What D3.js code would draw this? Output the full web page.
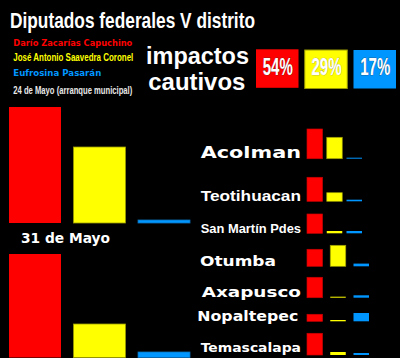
<!DOCTYPE html>
<html><head><meta charset="utf-8">
<script src="https://cdn.jsdelivr.net/npm/d3@7"></script>
<style>html,body{margin:0;padding:0;background:#000;}svg{display:block;}</style>
</head><body>
<svg id="c" width="400" height="358"></svg>
<script>
// ---------- data ----------
const title = "Diputados federales V distrito";
const candidates = ["Darío Zacarías Capuchino", "José Antonio Saavedra Coronel", "Eufrosina Pasarán"];
const shares = [54, 29, 17];
const dates = ["24 de Mayo (arranque municipal)", "31 de Mayo"];
const may24 = [116, 76, 3];
const may31 = [103.5, 33.5, 5.5];
const municipios = ["Acolman", "Teotihuacan", "San Martín Pdes", "Otumba", "Axapusco", "Nopaltepec", "Temascalapa"];
const muniRed = [29.7, 24, 19.3, 17, 20.4, 7, 21.7];
const muniYellow = [21.4, 8.6, 2.3, 21, 1, 1.3, 3];
const muniBlue = [1, 1.6, 2.3, 2.7, 2.4, 8.3, 2];

// ---------- styles / layout ----------
const NARROW = "Liberation Sans, Arial, sans-serif";
const fills = ["#ff0000", "#ffff00", "#0096ff"];
const strokes = ["#c80000", "#9a9a00", "#0a6fb8"];
const svg = d3.select("#c");
svg.append("rect").attr("width", 400).attr("height", 358).attr("fill", "#000");

// title
svg.append("text").attr("x", 10).attr("y", 27.5)
  .attr("font-family", NARROW).attr("font-weight", "bold")
  .attr("font-size", 21.5).attr("fill", "#fff")
  .attr("textLength", 245).attr("lengthAdjust", "spacingAndGlyphs").text(title);

// candidate names
const nameFonts = ["DejaVu Sans", NARROW, "DejaVu Sans"];
const nameSizes = [9.5, 11, 9.5];
const nameW = [119, 120, 88];
const nameY = [45.7, 61.3, 76];
candidates.forEach((c, i) => {
  svg.append("text").attr("x", 13.3).attr("y", nameY[i])
    .attr("font-family", nameFonts[i]).attr("font-weight", "bold")
    .attr("font-size", nameSizes[i]).attr("fill", fills[i])
    .attr("textLength", nameW[i]).attr("lengthAdjust", "spacingAndGlyphs").text(c);
});

// date 1
svg.append("text").attr("x", 13.3).attr("y", 94)
  .attr("font-family", NARROW).attr("font-weight", "bold")
  .attr("font-size", 10.5).attr("fill", "#e8e8e8")
  .attr("textLength", 119).attr("lengthAdjust", "spacingAndGlyphs").text(dates[0]);

// impactos cautivos
[["impactos", 146, 64.3, 103], ["cautivos", 148.3, 90, 97]].forEach(t => {
  svg.append("text").attr("x", t[1]).attr("y", t[2])
    .attr("font-family", "Liberation Sans").attr("font-weight", "bold")
    .attr("font-size", 23.5).attr("fill", "#fff")
    .attr("textLength", t[3]).attr("lengthAdjust", "spacingAndGlyphs").text(t[0]);
});

// share boxes
const xs = d3.scaleBand().domain(d3.range(3)).range([256, 396]).paddingInner(0.128);
const boxes = svg.append("g");
boxes.selectAll("rect").data(shares).join("rect")
  .attr("x", (d, i) => xs(i)).attr("y", (d, i) => i === 0 ? 49.3 : 50)
  .attr("width", xs.bandwidth()).attr("height", 38.5)
  .attr("fill", (d, i) => fills[i]).attr("stroke", (d, i) => i === 1 ? strokes[1] : "none").attr("stroke-width", 1);
boxes.selectAll("text").data(shares).join("text")
  .attr("x", (d, i) => xs(i) + xs.bandwidth() / 2 + 0.5).attr("y", 74.5)
  .attr("text-anchor", "middle")
  .attr("font-family", NARROW).attr("font-weight", "bold")
  .attr("font-size", 23).attr("fill", "#fff")
  .attr("stroke", (d, i) => i === 1 ? "#888" : "#333").attr("stroke-width", 0.6)
  .attr("paint-order", "stroke")
  .attr("textLength", 30).attr("lengthAdjust", "spacingAndGlyphs")
  .text(d => d + "%");

// big bars
const xb = d3.scaleBand().domain(d3.range(3)).range([9, 190]).paddingInner(0.194);
const yb = d3.scaleLinear().domain([0, 120]).range([0, 120]);
function bigBars(vals, base) {
  const g = svg.append("g");
  g.selectAll("rect").data(vals).join("rect")
    .attr("x", (d, i) => xb(i)).attr("y", d => base - yb(d))
    .attr("width", xb.bandwidth()).attr("height", d => yb(d))
    .attr("fill", (d, i) => fills[i])
    .attr("stroke", (d, i) => i === 0 ? "none" : strokes[i]).attr("stroke-width", 0.8);
}
bigBars(may24, 223);
bigBars(may31, 357.5);

svg.append("text").attr("x", 21).attr("y", 242.7)
  .attr("font-family", "DejaVu Sans").attr("font-weight", "bold")
  .attr("font-size", 13.5).attr("fill", "#fff")
  .attr("textLength", 89).attr("lengthAdjust", "spacingAndGlyphs").text(dates[1]);

// municipality bars
const muniBase = [158.7, 201.3, 233.3, 266.3, 297.7, 321.3, 355];
const labelY = [157.7, 201, 233.3, 266, 296.7, 321, 351.7];
const labelX = [200.7, 200.7, 200.7, 200, 201.7, 197.3, 200.7];
const labelW = [100.3, 100.3, 100.3, 76, 99.3, 101, 100.3];
const labelFont = ["DejaVu Sans", "Liberation Sans", NARROW, "DejaVu Sans", "DejaVu Sans", "DejaVu Sans", "DejaVu Sans"];
const labelSize = [15, 15.5, 13, 14, 14, 14, 13];
const xA = d3.scaleBand().domain(d3.range(3)).range([307, 362]).paddingInner(0.215);
const xB = d3.scaleBand().domain(d3.range(3)).range([307, 369]).paddingInner(0.333);
const ym = d3.scaleLinear().domain([0, 30]).range([0, 30]);

municipios.forEach((m, k) => {
  const g = svg.append("g");
  const vals = [muniRed[k], muniYellow[k], muniBlue[k]];
  const xs2 = k < 3 ? xA : xB;
  const base = muniBase[k];
  g.selectAll("rect").data(vals).join("rect")
    .attr("x", (d, i) => xs2(i)).attr("y", d => base - ym(d))
    .attr("width", xs2.bandwidth()).attr("height", d => ym(d))
    .attr("fill", (d, i) => fills[i])
    .attr("stroke", (d, i) => (i < 2 && d > 3) ? strokes[i] : "none").attr("stroke-width", 0.7);
  g.append("text").attr("x", labelX[k]).attr("y", labelY[k])
    .attr("font-family", labelFont[k]).attr("font-weight", "bold")
    .attr("font-size", labelSize[k]).attr("fill", "#fff")
    .attr("textLength", labelW[k]).attr("lengthAdjust", "spacingAndGlyphs").text(m);
});
</script>
</body></html>
